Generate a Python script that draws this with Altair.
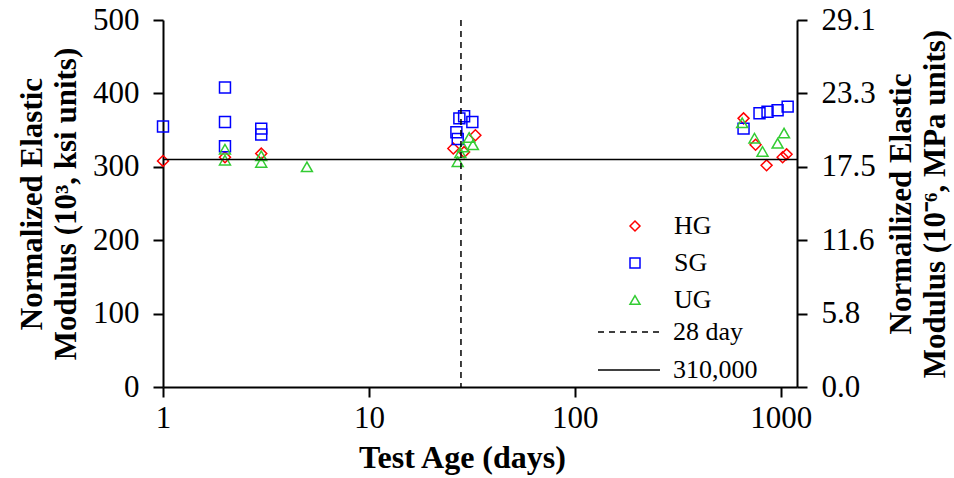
import altair as alt
import pandas as pd

# ---- data ----
hg_age = [1, 2, 3, 25.7, 29, 32.9, 660, 755, 854, 1022, 1068]
hg_mod = [308, 313, 318, 325, 320, 343, 366, 330, 302, 313, 317]

sg_age = [1, 2, 2, 2, 3, 3, 26.6, 27.5, 29, 31.8, 27, 660, 789, 863, 966, 1081]
sg_mod = [355, 408, 361, 328, 352, 344, 347, 366, 369, 361, 338, 352, 373, 375, 377, 382]

ug_age = [2, 2, 3, 3, 5, 27, 27.8, 28.7, 30.7, 32, 650, 746, 816, 966, 1038]
ug_mod = [324, 309, 315, 306, 300, 307, 319, 327, 340, 330, 360, 339, 321, 332, 346]

series_names = ["HG", "SG", "UG"]
series_colors = ["#ff0000", "#0000ff", "#33cc33"]
series_shapes = ["diamond", "square", "triangle-up"]

ref_names = ["28 day", "310,000"]
ref_age = [28]
ref_mod = [310]

x_ticks = [1, 10, 100, 1000]
y_ticks = [0, 100, 200, 300, 400, 500]

rows = []
for name, ages, mods in [("HG", hg_age, hg_mod), ("SG", sg_age, sg_mod), ("UG", ug_age, ug_mod)]:
    for a, m in zip(ages, mods):
        rows.append({"series": name, "age": a, "modulus": m})
df = pd.DataFrame(rows)

vdf = pd.DataFrame({"age": ref_age, "ref": [ref_names[0]]})
hdf = pd.DataFrame({"modulus": ref_mod, "ref": [ref_names[1]]})

FONT = "Liberation Serif"

x_scale = alt.Scale(type="log", domain=[1, 1200], nice=False)
y_scale = alt.Scale(domain=[0, 500], nice=False, zero=True)

pt_legend = alt.Legend(
    title=None, orient="none", legendX=459, legendY=193,
    symbolSize=100, symbolStrokeWidth=1.5, labelOffset=26, rowPadding=11,
    labelFont=FONT, labelFontSize=26, labelColor="black", padding=0,
)

points = alt.Chart(df).mark_point(filled=False, size=120, strokeWidth=1.5, opacity=1).encode(
    x=alt.X("age:Q", scale=x_scale,
            axis=alt.Axis(values=x_ticks, format="d", title="Test Age (days)", labelFlush=False,
                          labelPadding=6, titlePadding=9, titleFontSize=32, titleX=299)),
    y=alt.Y("modulus:Q", scale=y_scale,
            axis=alt.Axis(values=y_ticks, title=["Normalized Elastic", "Modulus (10³, ksi units)"],
                          labelPadding=14, titlePadding=10)),
    color=alt.Color("series:N", scale=alt.Scale(domain=series_names, range=series_colors), legend=pt_legend),
    shape=alt.Shape("series:N", scale=alt.Scale(domain=series_names, range=series_shapes), legend=pt_legend),
)

dash_scale = alt.Scale(domain=ref_names, range=[[6, 5], [1, 0]])
ln_legend = alt.Legend(
    title=None, orient="none", legendX=453, legendY=299,
    symbolType="M-3,0H3", symbolSize=427, symbolStrokeColor="black", symbolStrokeWidth=1.5,
    labelOffset=31, rowPadding=12, labelFont=FONT, labelFontSize=26, labelColor="black", padding=0,
)

vrule = alt.Chart(vdf).mark_rule(color="black", strokeWidth=1.5).encode(
    x=alt.X("age:Q", scale=x_scale),
    strokeDash=alt.StrokeDash("ref:N", scale=dash_scale, legend=ln_legend),
)

hrule = alt.Chart(hdf).mark_rule(color="black", strokeWidth=1.5).encode(
    y=alt.Y("modulus:Q", scale=y_scale,
            axis=alt.Axis(orient="right", values=y_ticks,
                          labelExpr="format(datum.value * 0.0582, '.1f')",
                          title=["Normailized Elastic", "Modulus (10⁻⁶, MPa units)"],
                          titleAngle=270, titleBaseline="bottom",
                          labelPadding=14, titlePadding=8)),
    strokeDash=alt.StrokeDash("ref:N", scale=dash_scale, legend=ln_legend),
)

chart = alt.layer(points, vrule, hrule).resolve_scale(y="independent").properties(
    width=634, height=367,
    autosize=alt.AutoSizeParams(type="none"),
    padding={"left": 163, "top": 20, "right": 157, "bottom": 91},
).configure_view(stroke=None).configure_axis(
    grid=False, domainColor="black", domainWidth=2, tickColor="black", tickWidth=2,
    tickSize=10, labelFont=FONT, labelFontSize=31, labelColor="black",
    titleFont=FONT, titleFontSize=31, titleFontWeight="bold", titleColor="black",
    titleLineHeight=34,
)

chart.save("out.html", embed_options={"renderer": "svg", "actions": False})
